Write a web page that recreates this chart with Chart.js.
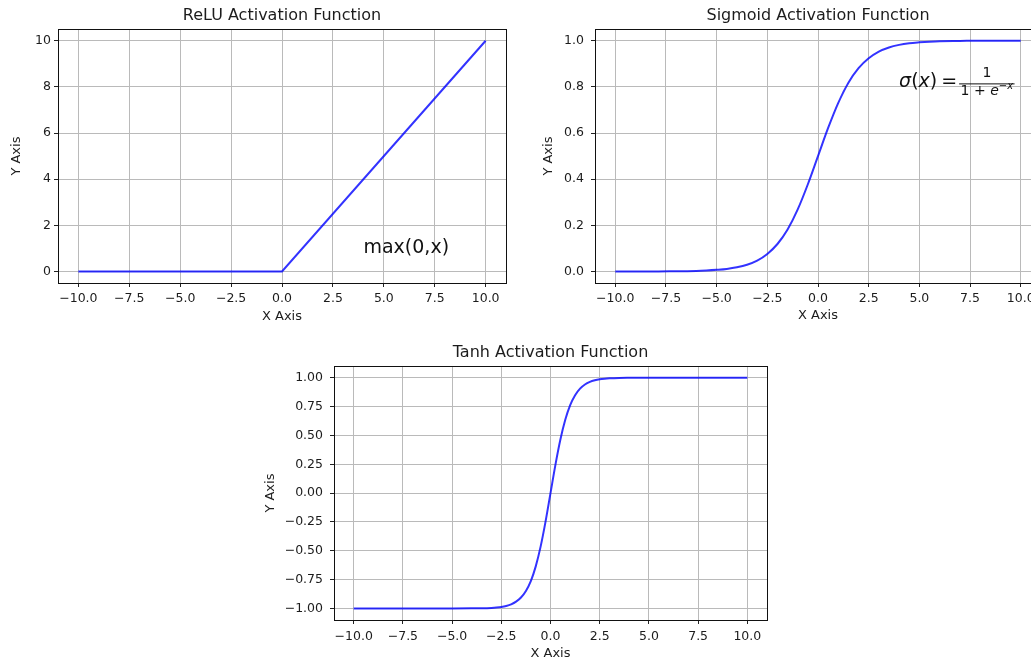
<!DOCTYPE html>
<html>
<head>
<meta charset="utf-8">
<script src="https://cdn.jsdelivr.net/npm/chart.js@4.4.1/dist/chart.umd.min.js"></script>
<style>
html, body { margin: 0; padding: 0; background: #fff; overflow: hidden; width: 1031px; height: 664px; }
canvas { position: absolute; }
</style>
</head>
<body>
<canvas id="reluChart" width="515" height="330" style="left:0px;top:0px"></canvas>
<canvas id="sigmoidChart" width="510" height="330" style="left:540px;top:0px"></canvas>
<canvas id="tanhChart" width="516" height="330" style="left:260px;top:337px"></canvas>
<script>
// sampled points along each activation curve
const reluX = [-10, 0, 10];
const reluY = [0, 0, 10];

const sigmoidX = [-10, -9, -8, -7, -6, -5.5, -5, -4.5, -4, -3.5, -3, -2.5, -2, -1.5, -1, -0.5,
    0, 0.5, 1, 1.5, 2, 2.5, 3, 3.5, 4, 4.5, 5, 5.5, 6, 7, 8, 9, 10];
const sigmoidY = [0.000, 0.000, 0.000, 0.001, 0.002, 0.004, 0.007, 0.011, 0.018, 0.029, 0.047, 0.076, 0.119, 0.182, 0.269, 0.378,
    0.500, 0.622, 0.731, 0.818, 0.881, 0.924, 0.953, 0.971, 0.982, 0.989, 0.993, 0.996, 0.998, 0.999, 1.000, 1.000, 1.000];

const tanhX = [-10, -9, -8, -7, -6, -5, -4, -3.5, -3, -2.75, -2.5, -2.25, -2, -1.75, -1.5, -1.25, -1, -0.75, -0.5, -0.25,
    0, 0.25, 0.5, 0.75, 1, 1.25, 1.5, 1.75, 2, 2.25, 2.5, 2.75, 3, 3.5, 4, 5, 6, 7, 8, 9, 10];
const tanhY = [-1.000, -1.000, -1.000, -1.000, -1.000, -1.000, -0.999, -0.998, -0.995, -0.992, -0.987, -0.978, -0.964, -0.941, -0.905, -0.848, -0.762, -0.635, -0.462, -0.245,
    0, 0.245, 0.462, 0.635, 0.762, 0.848, 0.905, 0.941, 0.964, 0.978, 0.987, 0.992, 0.995, 0.998, 0.999, 1.000, 1.000, 1.000, 1.000, 1.000, 1.000];

// tick values
const xTicks = [-10, -7.5, -5, -2.5, 0, 2.5, 5, 7.5, 10];
const reluYTicks = [0, 2, 4, 6, 8, 10];
const sigmoidYTicks = [0, 0.2, 0.4, 0.6, 0.8, 1.0];
const tanhYTicks = [-1, -0.75, -0.5, -0.25, 0, 0.25, 0.5, 0.75, 1];

const FONT = '"DejaVu Sans", sans-serif';
const INK = '#1c1c1c';
const LINE = 'rgba(0, 0, 255, 0.8)';
const GRID = '#bababa';

Chart.defaults.font.family = FONT;

function fmt(v, digits) {
    return v.toFixed(digits).replace('-', '\u2212');
}

function points(xs, ys) {
    return xs.map((x, i) => ({ x: x, y: ys[i] }));
}

// black frame around the plot area
const frame = {
    id: 'frame',
    afterDraw(chart) {
        const { ctx, chartArea: a } = chart;
        const l = Math.round(a.left - 0.5) + 0.5, r = Math.round(a.right - 0.5) + 0.5;
        const t = Math.round(a.top - 0.5) + 0.5, b = Math.round(a.bottom - 0.5) + 0.5;
        ctx.save();
        ctx.strokeStyle = '#111';
        ctx.lineWidth = 1;
        ctx.strokeRect(l, t, r - l, b - t);
        ctx.restore();
    }
};

function drawReluNote(ctx, x, y) {
    ctx.font = '19px ' + FONT;
    ctx.fillStyle = '#111';
    ctx.textAlign = 'left';
    ctx.textBaseline = 'alphabetic';
    ctx.fillText('max(0,x)', x, y);
}

function drawSigmoidNote(ctx, x0, y0) {
    let x = x0;
    ctx.fillStyle = '#111';
    ctx.textAlign = 'left';
    ctx.textBaseline = 'alphabetic';
    const part = (txt, font, dy) => {
        ctx.font = font;
        ctx.fillText(txt, x, y0 + (dy || 0));
        x += ctx.measureText(txt).width;
    };
    part('\u03c3', 'italic 19px ' + FONT);
    part('(', '19px ' + FONT);
    part('x', 'italic 19px ' + FONT);
    part(')', '19px ' + FONT);
    x += 4;
    part('=', '19px ' + FONT);
    x += 2;

    // fraction 1 / (1 + e^-x)
    const small = '14px ' + FONT, tiny = 'italic 10px ' + FONT;
    ctx.font = small;
    const w1 = ctx.measureText('1 + ').width;
    const we = (ctx.font = 'italic 14px ' + FONT, ctx.measureText('e').width);
    const wsup = (ctx.font = tiny, ctx.measureText('\u2212x').width);
    const denomW = w1 + we + wsup;
    const barY = y0 - 3.5;
    const start = x;
    ctx.fillRect(start, barY, denomW + 3, 1);
    ctx.font = small;
    ctx.textAlign = 'center';
    ctx.fillText('1', start + (denomW + 3) / 2, barY - 6);
    ctx.textAlign = 'left';
    x = start + 1.5;
    part('1 + ', small, 8);
    part('e', 'italic 14px ' + FONT, 8);
    part('\u2212x', tiny, 2);
}

function makeChart(id, cfg) {
    return new Chart(document.getElementById(id), {
        type: 'line',
        data: {
            datasets: [{
                data: points(cfg.xs, cfg.ys),
                borderColor: LINE,
                borderWidth: 2,
                pointRadius: 0,
                fill: false,
                tension: 0,
                cubicInterpolationMode: cfg.smooth ? 'monotone' : 'default'
            }]
        },
        options: {
            responsive: false,
            animation: false,
            devicePixelRatio: 1,
            layout: { padding: { left: 0, right: 9, top: 0, bottom: 0 } },
            plugins: {
                legend: { display: false },
                tooltip: { enabled: false },
                title: {
                    display: true,
                    fullSize: false,
                    text: cfg.title,
                    color: INK,
                    font: { family: FONT, size: 16, weight: 'normal' },
                    padding: { top: 6, bottom: 4 }
                }
            },
            scales: {
                x: {
                    type: 'linear',
                    min: -11,
                    max: 11,
                    afterBuildTicks: s => { s.ticks = xTicks.map(v => ({ value: v })); },
                    afterFit: s => { s.height = 47; },
                    ticks: {
                        autoSkip: false, maxRotation: 0, minRotation: 0,
                        padding: cfg.xPad, color: INK,
                        font: { size: 12.5 },
                        callback: v => fmt(v, 1)
                    },
                    grid: { color: GRID, lineWidth: 1, tickLength: 4, tickColor: '#222' },
                    border: { display: false },
                    title: {
                        display: true, text: 'X Axis', color: INK,
                        font: { size: 13 },
                        padding: { top: 0, bottom: cfg.xTitlePad }
                    }
                },
                y: {
                    min: cfg.yMin,
                    max: cfg.yMax,
                    afterBuildTicks: s => { s.ticks = cfg.yTicks.map(v => ({ value: v })); },
                    afterFit: s => { s.width = cfg.yWidth; },
                    ticks: {
                        autoSkip: false,
                        padding: cfg.yPad, color: INK,
                        font: { size: 12.5 },
                        callback: v => fmt(v, cfg.yDigits)
                    },
                    grid: { color: GRID, lineWidth: 1, tickLength: 4, tickColor: '#222' },
                    border: { display: false },
                    title: {
                        display: true, text: 'Y Axis', color: INK,
                        font: { size: 13 },
                        padding: { top: cfg.yTitlePad, bottom: 0 }
                    }
                }
            }
        },
        plugins: [frame, {
            id: 'note',
            afterDatasetsDraw(chart) {
                if (!cfg.note) return;
                const ctx = chart.ctx;
                ctx.save();
                cfg.note.draw(ctx, chart.scales.x.getPixelForValue(cfg.note.x), chart.scales.y.getPixelForValue(cfg.note.y));
                ctx.restore();
            }
        }]
    });
}

function initializeCharts() {
    makeChart('reluChart', {
        title: 'ReLU Activation Function',
        xs: reluX, ys: reluY, smooth: false,
        yMin: -0.5, yMax: 10.5, yTicks: reluYTicks, yDigits: 0,
        yWidth: 58, yPad: 3, yTitlePad: 9, xPad: 4, xTitlePad: 6,
        note: { x: 4, y: 0.8, draw: drawReluNote }
    });
    makeChart('sigmoidChart', {
        title: 'Sigmoid Activation Function',
        xs: sigmoidX, ys: sigmoidY, smooth: true,
        yMin: -0.05, yMax: 1.05, yTicks: sigmoidYTicks, yDigits: 1,
        yWidth: 55, yPad: 7, yTitlePad: 1, xPad: 4, xTitlePad: 7,
        note: { x: 4, y: 0.8, draw: drawSigmoidNote }
    });
    makeChart('tanhChart', {
        title: 'Tanh Activation Function',
        xs: tanhX, ys: tanhY, smooth: true,
        yMin: -1.1, yMax: 1.1, yTicks: tanhYTicks, yDigits: 2,
        yWidth: 74, yPad: 7, yTitlePad: 3, xPad: 5, xTitlePad: 6,
        note: null
    });
}

initializeCharts();
</script>
</body>
</html>
